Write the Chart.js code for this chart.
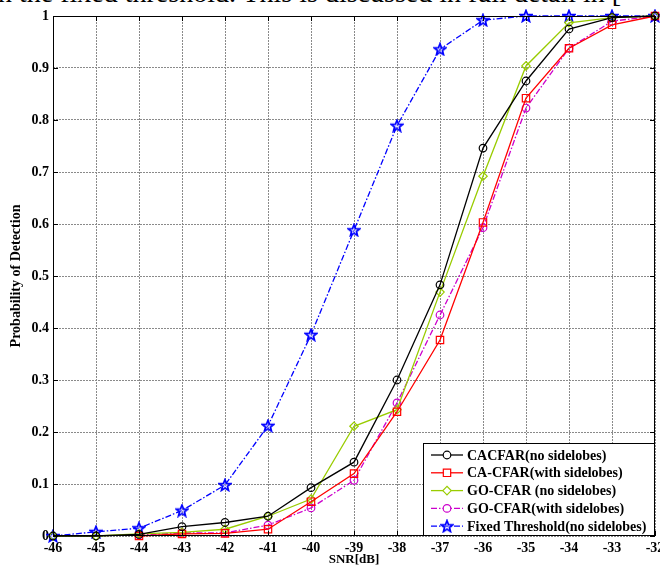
<!DOCTYPE html>
<html>
<head>
<meta charset="utf-8">
<script src="https://cdn.jsdelivr.net/npm/chart.js@4.4.1/dist/chart.umd.min.js"></script>
<style>
    html, body { margin: 0; padding: 0; background: #fff; }
    body { width: 660px; height: 568px; overflow: hidden; position: relative; }
    #page-text {
        position: absolute; left: -2px; top: -23px; white-space: nowrap;
        font-family: "Liberation Serif", "Times New Roman", serif; font-size: 28px; color: #000;
    }
    #chart { position: absolute; left: 0; top: 0; }
</style>
</head>
<body>
<div id="page-text">n the fixed threshold. This is discussed in full detail in [</div>
<canvas id="chart" width="680" height="568"></canvas>
<script>
// SNR values on the x axis
const snrLabels = ["-46", "-45", "-44", "-43", "-42", "-41", "-40", "-39", "-38", "-37", "-36", "-35", "-34", "-33", "-32"];

// Probability of detection for each detector
const caCfarNoSide   = [0, 0, 0.003, 0.018, 0.026, 0.038, 0.093, 0.142, 0.300, 0.483, 0.746, 0.875, 0.975, 0.997, 1.0];
const caCfarSide     = [null, null, 0, 0.004, 0.005, 0.013, 0.066, 0.120, 0.239, 0.377, 0.603, 0.842, 0.938, 0.983, 1.0];
const goCfarNoSide   = [0, 0, 0.004, 0.007, 0.013, 0.038, 0.071, 0.211, 0.243, 0.469, 0.692, 0.904, 0.987, 0.997, 1.0];
const goCfarSide     = [null, null, 0.002, 0.006, 0.006, 0.021, 0.054, 0.107, 0.256, 0.425, 0.593, 0.823, 0.938, 0.990, 1.0];
const fixedThreshold = [0, 0.008, 0.015, 0.049, 0.098, 0.212, 0.387, 0.588, 0.789, 0.936, 0.992, 1.0, 1.0, 1.0, 1.0];

const seriesNames = [
    "CACFAR(no sidelobes)",
    "CA-CFAR(with sidelobes)",
    "GO-CFAR (no sidelobes)",
    "GO-CFAR(with sidelobes)",
    "Fixed Threshold(no sidelobes)"
];

const FONT = "'Liberation Serif', 'Times New Roman', serif";
const dashDot = [6, 2, 1.5, 2];

// five point star marker (Chart.js "star" is an asterisk)
function makeStar(color) {
    const c = document.createElement("canvas");
    c.width = 14; c.height = 14;
    const g = c.getContext("2d");
    g.beginPath();
    for (let i = 0; i < 10; i++) {
        const r = i % 2 === 0 ? 6 : 2.6;
        const a = -Math.PI / 2 + i * Math.PI / 5;
        const px = 7 + r * Math.cos(a), py = 7.5 + r * Math.sin(a);
        if (i === 0) g.moveTo(px, py); else g.lineTo(px, py);
    }
    g.closePath();
    g.fillStyle = "rgba(170,170,255,0.35)";
    g.fill();
    g.lineWidth = 1.7;
    g.strokeStyle = color;
    g.stroke();
    return c;
}
const starMarker = makeStar("#0000ff");

function series(label, data, color, style, radius, dash) {
    return {
        label: label,
        data: data,
        borderColor: color,
        backgroundColor: "rgba(0,0,0,0)",
        borderWidth: 1.3,
        borderDash: dash || [],
        pointStyle: style,
        pointRadius: radius,
        pointHoverRadius: radius,
        pointBorderColor: color,
        pointBackgroundColor: "rgba(0,0,0,0)",
        pointBorderWidth: 1.2,
        tension: 0,
        spanGaps: false,
        clip: false
    };
}

// box, inward ticks and legend drawn on top
const frameAndLegend = {
    id: "frameAndLegend",
    afterDraw(chart) {
        const ctx = chart.ctx;
        const a = chart.chartArea;
        const xs = chart.scales.x, ys = chart.scales.y;
        ctx.save();
        ctx.strokeStyle = "#000";
        ctx.lineWidth = 1;
        ctx.setLineDash([]);
        ctx.strokeRect(a.left + 0.5, a.top + 0.5, a.right - a.left - 1, a.bottom - a.top - 1);
        ctx.beginPath();
        xs.ticks.forEach((t, i) => {
            const px = Math.round(xs.getPixelForTick(i)) + 0.5;
            ctx.moveTo(px, a.top); ctx.lineTo(px, a.top + 5);
            ctx.moveTo(px, a.bottom); ctx.lineTo(px, a.bottom - 5);
        });
        ys.ticks.forEach((t) => {
            const py = Math.round(ys.getPixelForValue(t.value)) + 0.5;
            ctx.moveTo(a.left, py); ctx.lineTo(a.left + 5, py);
            ctx.moveTo(a.right, py); ctx.lineTo(a.right - 5, py);
        });
        ctx.stroke();

        // legend box
        const w = 231, h = 92;
        const x0 = a.right - w - 1, y0 = a.bottom - h - 1;
        ctx.fillStyle = "#fff";
        ctx.fillRect(x0, y0, w, h);
        ctx.strokeRect(x0 + 0.5, y0 + 0.5, w, h);
        ctx.font = "bold 14px " + FONT;
        ctx.textBaseline = "middle";
        chart.data.datasets.forEach((ds, i) => {
            const y = y0 + 12 + i * 17.8;
            ctx.strokeStyle = ds.borderColor;
            ctx.lineWidth = ds.borderWidth;
            ctx.setLineDash(ds.borderDash);
            ctx.beginPath();
            ctx.moveTo(x0 + 8, y); ctx.lineTo(x0 + 40, y);
            ctx.stroke();
            ctx.setLineDash([]);
            ctx.lineWidth = ds.pointBorderWidth;
            ctx.fillStyle = "#fff";
            Chart.helpers.drawPoint(ctx, {
                pointStyle: ds.pointStyle, rotation: 0,
                radius: ds.pointRadius, borderWidth: ds.pointBorderWidth
            }, x0 + 24, y);
            ctx.fillStyle = "#000";
            ctx.fillText(ds.label, x0 + 44, y + 1);
        });
        ctx.restore();
    }
};

new Chart(document.getElementById("chart"), {
    type: "line",
    data: {
        labels: snrLabels,
        datasets: [
            series(seriesNames[0], caCfarNoSide, "#000000", "circle", 3.8),
            series(seriesNames[1], caCfarSide, "#ff0000", "rect", 5.2),
            series(seriesNames[2], goCfarNoSide, "#99cc00", "rectRot", 4.2),
            series(seriesNames[3], goCfarSide, "#cc00cc", "circle", 3.8, dashDot),
            series(seriesNames[4], fixedThreshold, "#0000ff", starMarker, 6, dashDot)
        ]
    },
    options: {
        responsive: false,
        animation: false,
        events: [],
        layout: { padding: { top: 16, right: 25, left: 0, bottom: 0 } },
        plugins: { legend: { display: false }, tooltip: { enabled: false } },
        scales: {
            x: {
                type: "category",
                offset: false,
                grid: { color: "#8a8a8a", lineWidth: 1, drawTicks: false },
                border: { display: false, dash: [2, 1] },
                ticks: { color: "#000", padding: 4, maxRotation: 0, autoSkip: false,
                         font: { family: FONT, size: 14, weight: "bold" } },
                title: { display: true, text: "SNR[dB]", color: "#000", padding: { top: 0, bottom: 1 },
                         font: { family: FONT, size: 13, weight: "bold" } },
                afterFit(scale) { scale.height = 32; }
            },
            y: {
                min: 0, max: 1,
                grid: { color: "#8a8a8a", lineWidth: 1, drawTicks: false },
                border: { display: false, dash: [2, 1] },
                ticks: { stepSize: 0.1, color: "#000", padding: 4,
                         font: { family: FONT, size: 14, weight: "bold" },
                         callback: (v) => String(Math.round(v * 10) / 10) },
                title: { display: true, text: "Probability of Detection", color: "#000", padding: { top: 8, bottom: 0 },
                         font: { family: FONT, size: 14, weight: "bold" } },
                afterFit(scale) { scale.width = 53; }
            }
        }
    },
    plugins: [frameAndLegend]
});
</script>
</body>
</html>
